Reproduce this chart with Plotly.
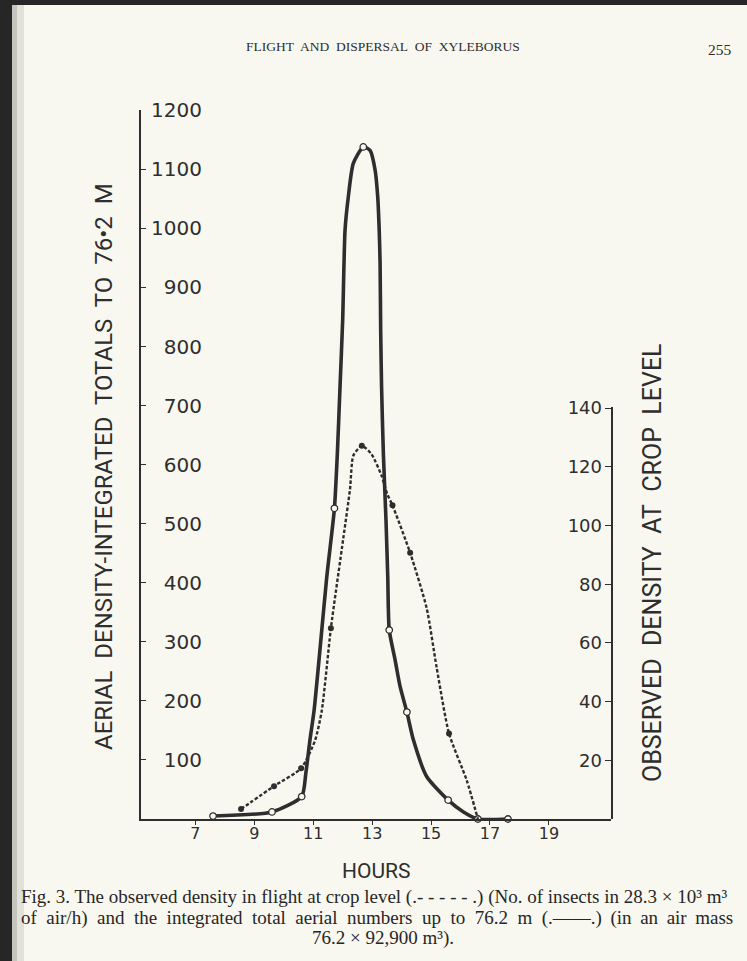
import plotly.graph_objects as go

# ---------------- data ----------------
# Integrated totals up to 76.2 m (left axis) – observed points (open circles)
integ_hours = [7.60, 9.60, 10.61, 11.72, 12.70, 13.58, 14.18, 15.58, 16.59, 17.61]
integ_totals = [5, 12, 38, 526, 1138, 320, 181, 32, 0, 0]

# Solid curve as drawn through the observations (readings along the line)
integ_curve_hours = [7.60, 9.60, 10.61, 10.75, 10.89, 11.03, 11.25, 11.46, 11.72,
                     11.82, 11.91, 12.00, 12.08, 12.19, 12.36, 12.70, 12.93, 13.10,
                     13.19, 13.24, 13.27, 13.29, 13.32, 13.38, 13.47, 13.53, 13.58,
                     13.78, 13.95, 14.18, 14.40, 14.85, 15.58, 16.10, 16.59, 17.61]
integ_curve_totals = [5, 12, 38, 78, 134, 184, 298, 410, 526,
                      620, 732, 845, 997, 1053, 1110, 1138, 1132, 1099,
                      1053, 997, 941, 828, 732, 620, 506, 410, 320,
                      269, 224, 181, 134, 72, 32, 12, 0, 0]

# Observed density at crop level (right axis) – observed points (filled dots)
dens_hours = [8.55, 9.67, 10.59, 11.60, 12.65, 13.69, 14.29, 15.61]
dens_values = [3.4, 11.2, 17.3, 65.0, 127.2, 106.9, 90.7, 29.1]

# Dotted curve as drawn (readings along the line)
dens_curve_hours = [8.55, 9.67, 10.59, 11.06, 11.29, 11.60, 12.02, 12.25, 12.36,
                    12.65, 12.98, 13.32, 13.51, 13.69, 14.29, 14.85, 15.19, 15.61,
                    16.21, 16.59]
dens_curve_values = [3.4, 11.2, 17.3, 26.7, 36.9, 65.0, 95.6, 112.5, 123.8,
                     127.2, 124.3, 117.0, 110.8, 106.9, 90.7, 71.9, 51.6, 29.1,
                     13.2, 0.0]

left_ticks = [100, 200, 300, 400, 500, 600, 700, 800, 900, 1000, 1100, 1200]
right_ticks = [20, 40, 60, 80, 100, 120, 140]
hour_ticks = [7, 9, 11, 13, 15, 17, 19]

# ---------------- styling / layout ----------------
W, H = 747, 961
L, R, T, B = 141, 611, 110, 819   # plot area edges in pixels
PAPER = "#f9f8f0"
INK = "#2e2e2e"
SANS = "DejaVu Sans"
TITLE_SANS = "Roboto"
SERIF = "Liberation Serif"
NB = "\u00a0"


def px2x(px):
    return (px - L) / (R - L)


def py2y(py):
    return (B - py) / (B - T)


fig = go.Figure()

# solid curve (integrated totals)
fig.add_trace(go.Scatter(
    x=integ_curve_hours, y=integ_curve_totals, mode="lines",
    line=dict(color=INK, width=3.6, shape="spline", smoothing=0.6),
    xaxis="x", yaxis="y", hoverinfo="skip", showlegend=False, cliponaxis=False))
fig.add_trace(go.Scatter(
    x=integ_hours, y=integ_totals, mode="markers",
    marker=dict(symbol="circle", size=6.5, color=PAPER, line=dict(color=INK, width=1.3)),
    xaxis="x", yaxis="y", showlegend=False, cliponaxis=False))

# dotted curve (density at crop level)
fig.add_trace(go.Scatter(
    x=dens_curve_hours, y=dens_curve_values, mode="lines",
    line=dict(color=INK, width=2.4, dash="3.5px,2px", shape="spline", smoothing=0.6),
    xaxis="x", yaxis="y2", hoverinfo="skip", showlegend=False, cliponaxis=False))
fig.add_trace(go.Scatter(
    x=dens_hours, y=dens_values, mode="markers",
    marker=dict(symbol="circle", size=6, color=INK),
    xaxis="x", yaxis="y2", showlegend=False, cliponaxis=False))

# invisible traces so the label-only axes are rendered
fig.add_trace(go.Scatter(x=[None], y=[None], xaxis="x", yaxis="y3",
                         showlegend=False, hoverinfo="skip"))
fig.add_trace(go.Scatter(x=[None], y=[None], xaxis="x", yaxis="y4",
                         showlegend=False, hoverinfo="skip"))

domain2_top = py2y(407)

fig.update_layout(
    width=W, height=H,
    margin=dict(l=L, r=W - R, t=T, b=H - B, pad=0),
    paper_bgcolor=PAPER, plot_bgcolor="rgba(0,0,0,0)",
    showlegend=False,
    xaxis=dict(
        range=[5.154, 21.108], domain=[0, 1], anchor="y",
        showgrid=False, zeroline=False,
        showline=True, linecolor=INK, linewidth=1.6,
        ticks="outside", ticklen=4, tickwidth=1.3, tickcolor=INK,
        tickvals=hour_ticks, ticktext=[str(v) for v in hour_ticks],
        tickfont=dict(family=SANS, size=16, color=INK),
        ticklabelstandoff=-5,
    ),
    # left axis: line and ticks
    yaxis=dict(
        range=[0, 1200.5], domain=[0, 1], anchor="x",
        showgrid=False, zeroline=False,
        showline=True, linecolor=INK, linewidth=1.6,
        ticks="inside", ticklen=5, tickwidth=1.3, tickcolor=INK,
        tickvals=left_ticks, showticklabels=False,
    ),
    # left axis: right-aligned labels standing inside the frame
    yaxis3=dict(
        range=[0, 1200.5], overlaying="y", anchor="free", side="left",
        position=px2x(202),
        showgrid=False, zeroline=False, showline=False, ticks="",
        tickvals=left_ticks, ticktext=[str(v) for v in left_ticks],
        tickfont=dict(family=SANS, size=20, color=INK),
    ),
    # right axis: line and ticks
    yaxis2=dict(
        range=[0, 140.4], domain=[0, domain2_top], anchor="x", side="right",
        showgrid=False, zeroline=False,
        showline=True, linecolor=INK, linewidth=1.6,
        ticks="inside", ticklen=6, tickwidth=1.3, tickcolor=INK,
        tickvals=right_ticks, showticklabels=False,
    ),
    # right axis: labels to the left of the line
    yaxis4=dict(
        range=[0, 140.4], overlaying="y2", anchor="free", side="left",
        position=px2x(602),
        showgrid=False, zeroline=False, showline=False, ticks="",
        tickvals=right_ticks, ticktext=[str(v) for v in right_ticks],
        tickfont=dict(family=SANS, size=18, color=INK),
    ),
)


def A(text, px, py, size, family, angle=0, xanchor="center", color=INK):
    return dict(text=text, x=px2x(px), y=py2y(py), xref="paper", yref="paper",
                xanchor=xanchor, yanchor="middle", textangle=angle, showarrow=False,
                font=dict(family=family, size=size, color=color))


left_title = (NB + " ").join(["AERIAL", "DENSITY-INTEGRATED", "TOTALS", "TO", "76•2", "M"])
right_title = (NB + " ").join(["OBSERVED", "DENSITY", "AT", "CROP", "LEVEL"])
header = (NB + " ").join(["FLIGHT", "AND", "DISPERSAL", "OF", "XYLEBORUS"])

ann = [
    A(left_title, 104, 467, 24, TITLE_SANS, angle=-90),
    A(right_title, 652, 563, 25, TITLE_SANS, angle=-90),
    A("HOURS", 376, 871, 21, TITLE_SANS),
    A(header, 383, 47, 13.5, SERIF),
    A("255", 720, 50, 15.5, SERIF),
]

cap_size = 19
CAP_INK = "#262626"
line1 = "Fig. 3. The observed density in flight at crop level (.- - - - - .) (No. of insects in 28.3 × 10³ m³"
line2_words = ["of", "air/h)", "and", "the", "integrated", "total", "aerial", "numbers", "up",
               "to", "76.2", "m", "(.——.)", "(in", "an", "air", "mass"]
gaps = ["\u2002"] * 12 + [" \u2009"] * 4
line2 = line2_words[0]
for g, w in zip(gaps, line2_words[1:]):
    line2 += g + w
line3 = "76.2 × 92,900 m³)."
ann += [
    A(line1, 19, 897, cap_size, SERIF, xanchor="left", color=CAP_INK),
    A(line2, 19, 918, cap_size, SERIF, xanchor="left", color=CAP_INK),
    A(line3, 383, 938, cap_size, SERIF, color=CAP_INK),
]
fig.update_layout(annotations=ann)

# scan border (dark edge of the photographed page)
shapes = [
    dict(type="rect", xref="paper", yref="paper", x0=px2x(0), x1=px2x(W), y0=py2y(5), y1=py2y(0),
         fillcolor="#262626", line=dict(width=0), layer="below"),
    dict(type="rect", xref="paper", yref="paper", x0=px2x(0), x1=px2x(12), y0=py2y(H), y1=py2y(0),
         fillcolor="#262626", line=dict(width=0), layer="below"),
    dict(type="rect", xref="paper", yref="paper", x0=px2x(12), x1=px2x(17), y0=py2y(H), y1=py2y(5),
         fillcolor="#c4c3bc", line=dict(width=0), layer="below"),
    dict(type="rect", xref="paper", yref="paper", x0=px2x(17), x1=px2x(24), y0=py2y(H), y1=py2y(5),
         fillcolor="#e2e1d8", line=dict(width=0), layer="below"),
]
fig.update_layout(shapes=shapes)

fig.write_html("out.html")
